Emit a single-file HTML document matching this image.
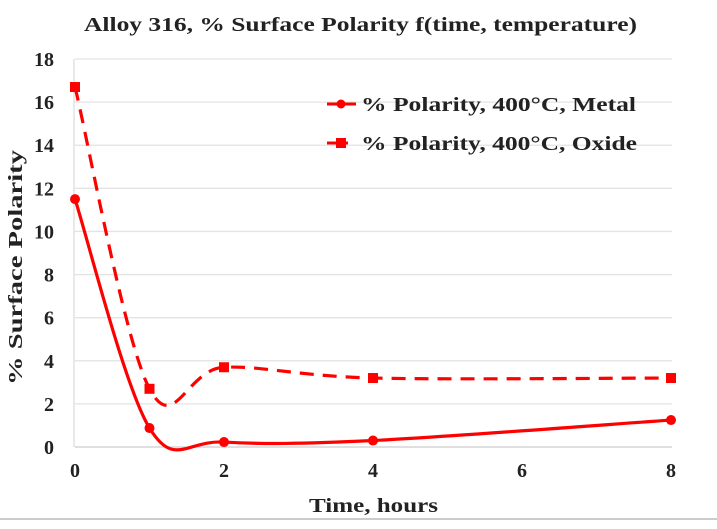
<!DOCTYPE html>
<html><head><meta charset="utf-8"><style>
body{margin:0;background:#fff;}
svg text{font-family:"Liberation Serif",serif;font-weight:bold;fill:#222;}
</style></head><body>
<svg width="717" height="524" xmlns="http://www.w3.org/2000/svg" id="chart">
<text x="84" y="31" font-size="20" textLength="553" lengthAdjust="spacingAndGlyphs">Alloy 316, % Surface Polarity f(time, temperature)</text>
<g id="grid"></g><g id="series"></g>
<text transform="translate(22,268) rotate(-90)" x="-117" y="0" font-size="20" textLength="235" lengthAdjust="spacingAndGlyphs">% Surface Polarity</text>
<text x="309" y="512" font-size="20" textLength="129" lengthAdjust="spacingAndGlyphs">Time, hours</text>
<g>
<line x1="327" y1="104" x2="356" y2="104" stroke="#f00" stroke-width="3"/>
<circle cx="341" cy="104" r="4.5" fill="#f00"/>
<text x="361" y="111" font-size="20" textLength="275" lengthAdjust="spacingAndGlyphs">% Polarity, 400°C, Metal</text>
<line x1="327" y1="143" x2="348" y2="143" stroke="#f00" stroke-width="3"/>
<rect x="336" y="138" width="10" height="10" fill="#f00"/>
<text x="361" y="150" font-size="20" textLength="276" lengthAdjust="spacingAndGlyphs">% Polarity, 400°C, Oxide</text>
</g>
<line x1="0" y1="519" x2="717" y2="519" stroke="#ccc" stroke-width="2"/>
</svg>
<script>
const times=[0,1,2,4,8];
const metal=[11.5,0.88,0.23,0.3,1.25];
const oxide=[16.7,2.7,3.7,3.2,3.2];
const yTicks=[0,2,4,6,8,10,12,14,16,18];
const xTicks=[0,2,4,6,8];
const NS="http://www.w3.org/2000/svg";
const X0=75,X1=671,Y0=447,Y1=59;
function sx(v){return X0+(v-0)/(8-0)*(X1-X0);}
function sy(v){return Y0-(v-0)/(18-0)*(Y0-Y1);}
function mk(t,a,parent){const e=document.createElementNS(NS,t);for(const k in a)e.setAttribute(k,a[k]);parent.appendChild(e);return e;}
const grid=document.getElementById('grid'),ser=document.getElementById('series');
yTicks.forEach(v=>{
 const l=mk('line',{x1:X0,x2:X1+1,y1:sy(v),y2:sy(v),stroke:v===0?'#ccc':'#e3e3e3','stroke-width':1.3},grid);
 
 
 const t=mk('text',{x:54,y:sy(v)+7,'text-anchor':'end','font-size':20},grid);
 t.textContent=v;
 
 
});
const ax=mk('line',{x1:X0-1,x2:X0-1,y1:Y1,y2:Y0,stroke:'#ddd','stroke-width':1.3},grid);


xTicks.forEach(v=>{
 const t=mk('text',{x:sx(v),y:477,'text-anchor':'middle','font-size':20},grid);
 t.textContent=v;
 
 
});
function smooth(pts){
 let d=`M${pts[0][0]},${pts[0][1]}`;
 for(let i=0;i<pts.length-1;i++){
  const p0=pts[i-1]||pts[i],p1=pts[i],p2=pts[i+1],p3=pts[i+2]||p2;
  const c1=[p1[0]+(p2[0]-p0[0])/6,p1[1]+(p2[1]-p0[1])/6];
  const c2=[p2[0]-(p3[0]-p1[0])/6,p2[1]-(p3[1]-p1[1])/6];
  d+=` C${c1[0]},${c1[1]} ${c2[0]},${c2[1]} ${p2[0]},${p2[1]}`;
 }
 return d;
}
const op=times.map((t,i)=>[sx(t),sy(oxide[i])]);
const mp=times.map((t,i)=>[sx(t),sy(metal[i])]);
const oPath=mk('path',{d:smooth(op),fill:'none',stroke:'#f00','stroke-width':3.2,'stroke-dasharray':'14 9'},ser);


const mPath=mk('path',{d:smooth(mp),fill:'none',stroke:'#f00','stroke-width':3.2},ser);


op.forEach(p=>{
 const r=mk('rect',{x:p[0]-5,y:p[1]-5,width:10,height:10,fill:'#f00'},ser);
 
 
});
mp.forEach(p=>{
 const c=mk('circle',{cx:p[0],cy:p[1],r:5,fill:'#f00'},ser);
 
 
});
</script>
</body></html>
